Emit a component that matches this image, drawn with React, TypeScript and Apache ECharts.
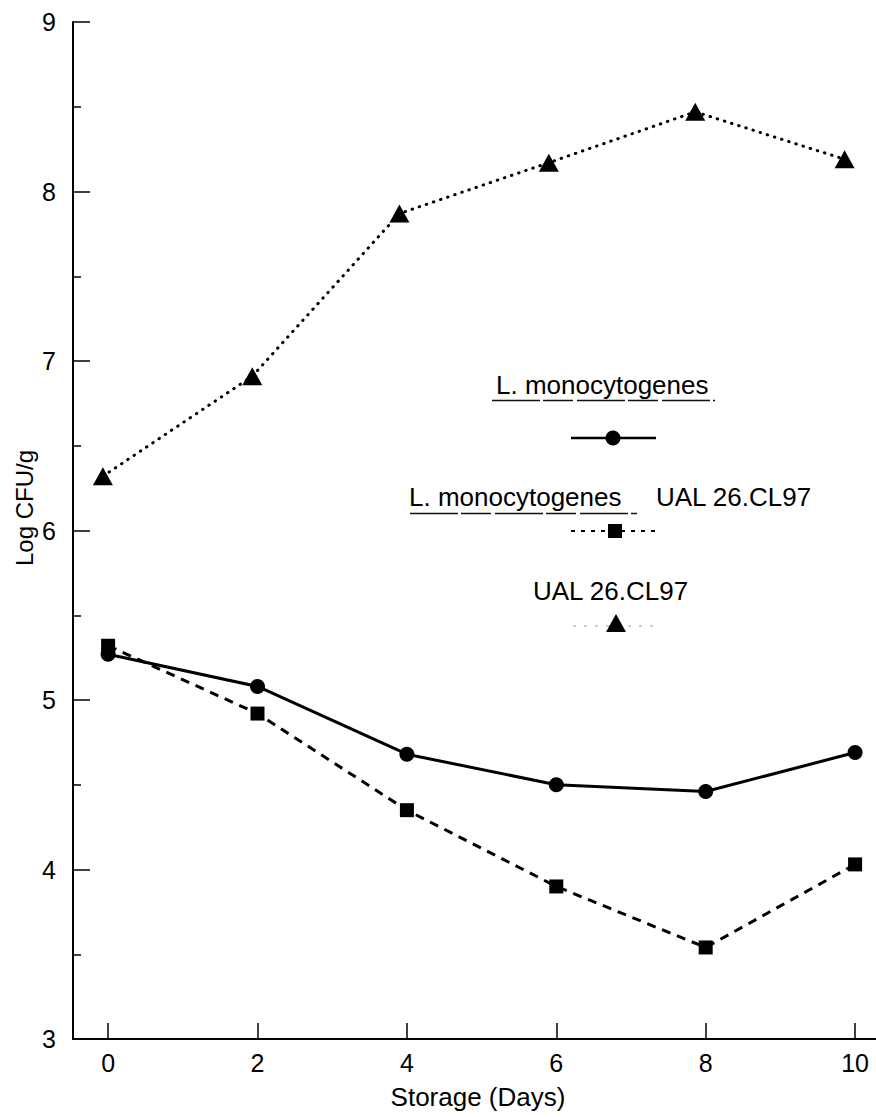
import React, { useEffect, useRef } from "react";
import * as echarts from "echarts";

// Storage days at which counts were taken
const days = [0, 2, 4, 6, 8, 10];
// plotted positions of the UAL 26.CL97 points along the day axis
const ualDays = [-0.07, 1.93, 3.9, 5.9, 7.86, 9.86];

// Log CFU/g values
const lmono = [5.27, 5.08, 4.68, 4.5, 4.46, 4.69];
const lmonoWithUal = [5.32, 4.92, 4.35, 3.9, 3.54, 4.03];
const ual = [6.32, 6.91, 7.87, 8.17, 8.47, 8.19];

const xTicks = [0, 2, 4, 6, 8, 10];

const FONT = "'Liberation Sans', Arial, Helvetica, sans-serif";
const INK = "#000";

const pair = (xs: number[], ys: number[]) => xs.map((x, i) => [x, ys[i]]);

export default function App() {
  const ref = useRef<HTMLDivElement>(null);

  useEffect(() => {
    if (!ref.current) return;
    const chart = echarts.init(ref.current, undefined, { renderer: "svg" });

    const label = (text: string, x: number, y: number, extra: any = {}) => ({
      type: "text",
      x,
      y,
      style: {
        text,
        fill: INK,
        font: `26px ${FONT}`,
        textVerticalAlign: "middle",
        ...extra,
      },
    });

    const underline = (x1: number, x2: number, y: number) => ({
      type: "line",
      shape: { x1, y1: y, x2, y2: y },
      style: { stroke: "#111", lineWidth: 1.5, lineDash: [48, 3, 30, 4] },
    });

    chart.setOption({
      animation: false,
      backgroundColor: "#fff",
      grid: { left: 73, right: 0, top: 22, bottom: 78 },
      xAxis: {
        type: "value",
        min: -0.47,
        max: 10.28,
        axisLine: { show: true, onZero: false, lineStyle: { color: INK, width: 2 } },
        axisTick: {
          show: true,
          inside: true,
          length: 16,
          customValues: xTicks,
          lineStyle: { color: INK, width: 1.5 },
        },
        axisLabel: {
          customValues: xTicks,
          margin: 11,
          color: INK,
          fontSize: 25,
          fontFamily: FONT,
        },
        splitLine: { show: false },
      },
      yAxis: {
        type: "value",
        min: 3,
        max: 9,
        interval: 1,
        axisLine: { show: true, onZero: false, lineStyle: { color: INK, width: 2 } },
        axisTick: {
          show: true,
          inside: true,
          length: 17,
          lineStyle: { color: INK, width: 1.5 },
        },
        minorTick: {
          show: true,
          splitNumber: 2,
          length: 8,
          lineStyle: { color: INK, width: 1.5 },
        },
        axisLabel: {
          margin: 17,
          color: INK,
          fontSize: 25,
          fontFamily: FONT,
        },
        splitLine: { show: false },
      },
      series: [
        {
          name: "L. monocytogenes",
          type: "line",
          data: pair(days, lmono),
          symbol: "circle",
          symbolSize: 15,
          itemStyle: { color: INK },
          lineStyle: { color: INK, width: 3, type: "solid" },
          z: 3,
        },
        {
          name: "L. monocytogenes UAL 26.CL97",
          type: "line",
          data: pair(days, lmonoWithUal),
          symbol: "rect",
          symbolSize: 14,
          itemStyle: { color: INK },
          lineStyle: { color: INK, width: 3, type: [9, 7] },
          z: 2,
        },
        {
          name: "UAL 26.CL97",
          type: "line",
          data: pair(ualDays, ual),
          symbol: "triangle",
          symbolSize: [20, 18],
          itemStyle: { color: INK },
          lineStyle: { color: INK, width: 3, type: [0.5, 7], cap: "round" },
          z: 2,
        },
      ],
      graphic: [
        // axis titles
        label("Storage (Days)", 478, 1097, { textAlign: "center" }),
        {
          type: "text",
          x: 24,
          y: 508,
          rotation: Math.PI / 2,
          style: {
            text: "Log CFU/g",
            fill: INK,
            font: `24px ${FONT}`,
            textAlign: "center",
            textVerticalAlign: "middle",
          },
        },
        // key: L. monocytogenes
        label("L. monocytogenes", 496, 385),
        underline(492, 715, 400.5),
        {
          type: "line",
          shape: { x1: 571, y1: 438, x2: 656, y2: 438 },
          style: { stroke: INK, lineWidth: 2.5 },
        },
        { type: "circle", shape: { cx: 613, cy: 438, r: 7.5 }, style: { fill: INK } },
        // key: L. monocytogenes UAL 26.CL97
        label("L. monocytogenes", 409, 497),
        label("UAL 26.CL97", 656, 497),
        underline(410, 637, 513.5),
        {
          type: "line",
          shape: { x1: 571, y1: 531, x2: 657, y2: 531 },
          style: { stroke: INK, lineWidth: 2, lineDash: [4, 6] },
        },
        { type: "rect", shape: { x: 608, y: 524, width: 14, height: 14 }, style: { fill: INK } },
        // key: UAL 26.CL97
        label("UAL 26.CL97", 533, 591),
        {
          type: "line",
          shape: { x1: 573, y1: 626, x2: 660, y2: 626 },
          style: { stroke: "#999", lineWidth: 1, lineDash: [3, 8] },
        },
        {
          type: "polygon",
          shape: { points: [[616, 614], [606, 632], [626, 632]] },
          style: { fill: INK },
        },
      ],
    });

    return () => chart.dispose();
  }, []);

  return (
    <div
      ref={ref}
      style={{ position: "fixed", left: 0, top: 0, width: 876, height: 1117, background: "#fff" }}
    />
  );
}
